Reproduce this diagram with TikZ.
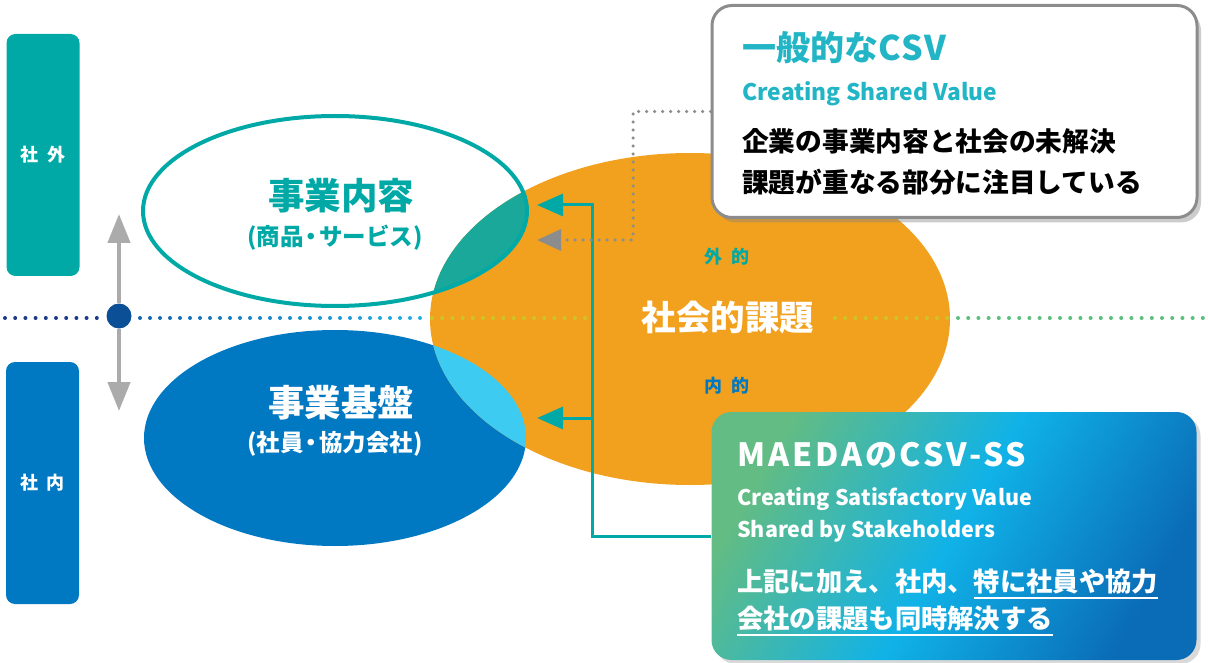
\documentclass[tikz,border=0pt]{standalone}
\usepackage{fontspec}
\setmainfont{Noto Sans CJK JP}
\usetikzlibrary{arrows.meta,shadows,positioning}
\definecolor{teal0}{HTML}{00A9A6}
\definecolor{teal1}{HTML}{1AA89A}
\definecolor{cyan0}{HTML}{22B5C6}
\definecolor{blue0}{HTML}{0078C2}
\definecolor{sky0}{HTML}{3DCBF2}
\definecolor{orange0}{HTML}{F2A11E}
\definecolor{navy0}{HTML}{0B4F96}
\definecolor{navy1}{HTML}{1B3B8A}
\definecolor{dotblue}{HTML}{1565B0}
\definecolor{dotsky}{HTML}{22AEE6}
\definecolor{dotyel}{HTML}{CDC526}
\definecolor{dotgreen}{HTML}{5CBF7C}
\definecolor{gray0}{HTML}{ABABAB}
\definecolor{gray1}{HTML}{8C8C8C}
\definecolor{ssgreen}{HTML}{62BC84}
\definecolor{sscyan}{HTML}{10B2E8}
\definecolor{ssblue}{HTML}{0A6CB6}
\newcommand{\fsz}[1]{\fontsize{#1}{#1}\selectfont\bfseries}
\newcommand{\gap}{\hspace{0.45em}}
\newcommand{\mdot}{\kern-0.16em・\kern-0.16em}
\newsavebox{\ulbox}
\newcommand{\ulbar}[1]{\sbox\ulbox{#1}\rlap{\rule[-8pt]{\wd\ulbox}{2.2pt}}\usebox\ulbox}

\begin{document}
\begin{tikzpicture}[x=1pt,y=-1pt,
  lab/.style={inner sep=0pt},
  sidebox/.style={rounded corners=9pt,minimum width=73pt,minimum height=242pt,text=white,inner sep=0pt,font=\fsz{18}},
  dots/.style={line width=4pt,line cap=round,dash pattern=on 0pt off 10.2pt},
  tealarrow/.style={draw=teal0,line width=3pt,-{Triangle[width=22pt,length=26pt]}},
  grayarrow/.style={draw=gray1,line width=3.5pt,line cap=round,dash pattern=on 0pt off 8pt,
    -{Triangle[width=21pt,length=24pt,fill=gray1]}},
  updown/.style={draw=gray0,line width=4.5pt,-{Triangle[width=22pt,length=29pt]}},
  infobox/.style={rounded corners=20pt,minimum width=485pt,inner sep=0pt}]
\useasboundingbox (0,0) rectangle (1208,663);

% side labels
\node[sidebox,fill=teal0] (outside) at (43,155) {社\gap 外};
\node[sidebox,fill=blue0] (inside) at (42.5,483) {社\gap 内};

% the three ellipses and their overlaps
\fill[blue0] (335,438) ellipse [x radius=191pt, y radius=108pt];
\fill[orange0] (690,319) ellipse [x radius=260pt, y radius=166pt];
\begin{scope}
\clip (690,319) ellipse [x radius=260pt, y radius=166pt];
\fill[teal1] (335,211) ellipse [x radius=192pt, y radius=95pt];
\fill[sky0] (335,438) ellipse [x radius=191pt, y radius=108pt];
\end{scope}
\draw[teal0,line width=4pt] (335,211) ellipse [x radius=192pt, y radius=95pt];

% dotted divider
\draw[dots,navy1] (5,318) -- (100,318);
\foreach \x in {140,150,...,420} {
  \pgfmathtruncatemacro\m{(\x-140)/2.8}
  \fill[dotsky!\m!dotblue] (\x,318) circle (2pt);
}
\draw[dots,dotyel] (432,318) -- (592,318);
\draw[dots,dotyel] (835,318) -- (948,318);
\draw[dots,dotgreen] (958,318) -- (1205,318);

% hub with up/down arrows
\node[circle,fill=navy0,minimum size=25pt,inner sep=0pt] (hub) at (119,316) {};
\coordinate (upTip) at (119,214);
\coordinate (downTip) at (119,411);
\draw[updown] (hub) -- (upTip);
\draw[updown] (hub) -- (downTip);

% ellipse labels
\node[lab,text=teal0,font=\fsz{36.5}] (bizContent) at (341,196) {事業内容};
\node[lab,text=teal0,font=\fsz{23.5}] (bizContentSub) at (335,238) {(商品\mdot サービス)};
\node[lab,text=white,font=\fsz{36.5}] (bizBase) at (341,403) {事業基盤};
\node[lab,text=white,font=\fsz{23.5}] (bizBaseSub) at (335,444) {(社員\mdot 協力会社)};
\node[lab,text=teal0,font=\fsz{18}] (external) at (727,257) {外\gap 的};
\node[lab,text=white,font=\fsz{34.5}] (social) at (728,318) {社会的課題};
\node[lab,text=blue0,font=\fsz{18}] (internal) at (727,386) {内\gap 的};

% general CSV box
\node[infobox,draw=gray1,line width=3pt,fill=white,minimum height=212pt,
  drop shadow={opacity=0.4,shadow xshift=4pt,shadow yshift=-5pt}] (csvBox) at (954.5,111.5) {};
\node[lab,anchor=base west,text=cyan0,font=\fsz{34}] (csvTitle) at (742,61) {一般的な\addfontfeature{LetterSpace=5}CSV};
\node[lab,anchor=base west,text=cyan0,font=\fsz{22.8}] (csvSub) at (742,101) {Creating Shared Value};
\node[lab,anchor=base west,font=\fsz{26.7}] (csvLineA) at (742,152) {企業の事業内容と社会の未解決};
\node[lab,anchor=base west,font=\fsz{26.7}] (csvLineB) at (742,193) {課題が重なる部分に注目している};

% MAEDA CSV-SS box
\node[infobox,top color=ssgreen,bottom color=ssblue,middle color=sscyan,shading angle=60,
  minimum height=248pt,drop shadow={opacity=0.3,shadow xshift=4pt,shadow yshift=-4pt}] (ssBox) at (954,536) {};
\node[lab,anchor=base west,text=white,font=\fsz{32}] (ssTitle) at (737,466) {\addfontfeature{LetterSpace=9}MAEDAのCSV-SS};
\node[lab,anchor=base west,text=white,font=\fsz{21.5}] (ssSubA) at (737,505) {Creating Satisfactory Value};
\node[lab,anchor=base west,text=white,font=\fsz{21.5}] (ssSubB) at (737,537) {Shared by Stakeholders};
\node[lab,anchor=base west,text=white,font=\fsz{26.3}] (ssLineA) at (737,591) {上記に加え、社内、\ulbar{特に社員や協力}};
\node[lab,anchor=base west,text=white,font=\fsz{26.3}] (ssLineB) at (737,628) {\ulbar{会社の課題も同時解決する}};

% connectors
\coordinate (tipTop) at (537,205);
\coordinate (tipLow) at (537,418);
\coordinate (tipDot) at (537,240);
\coordinate (elbow) at (592,205);
\coordinate (bend) at (633,240);
\draw[tealarrow] (ssBox.west) -| (elbow) -- (tipTop);
\draw[tealarrow] (elbow |- tipLow) -- (tipLow);
\draw[grayarrow] (csvBox.west) -| (bend) -- (tipDot);
\end{tikzpicture}
\end{document}
